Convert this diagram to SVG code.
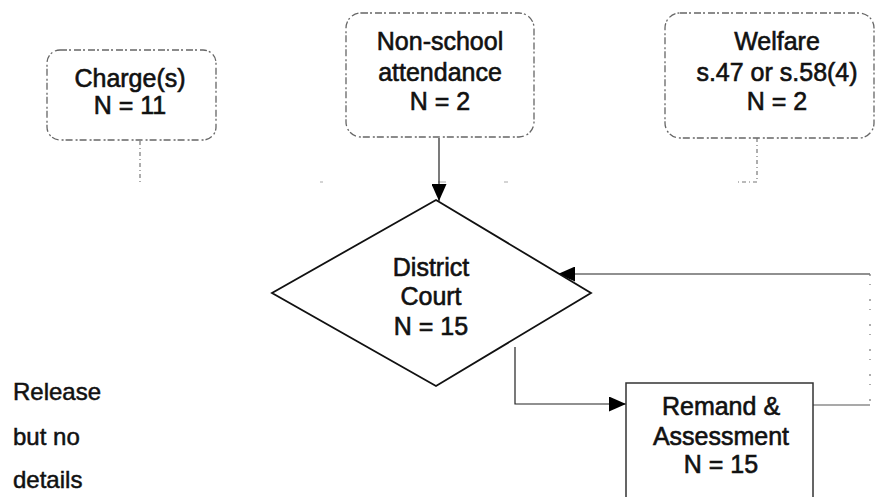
<svg xmlns="http://www.w3.org/2000/svg" width="876" height="497" viewBox="0 0 876 497">
  <style>
    .lbl { font-family: "Liberation Sans", Arial, sans-serif; font-size: 25px; fill: #111; stroke: #111; stroke-width: 0.6; text-anchor: middle; }
    .note { font-family: "Liberation Sans", Arial, sans-serif; font-size: 24px; fill: #111; stroke: #111; stroke-width: 0.5; }
    .src { fill: #fff; stroke: #666; stroke-width: 1.3; stroke-dasharray: 7 2 2 3; }
    .solid { fill: #fff; stroke: #111; stroke-width: 1.8; }
    .wire { fill: none; stroke: #222; stroke-width: 1.2; }
    .faint { fill: none; stroke: #777; stroke-width: 1.2; stroke-dasharray: 4 3 1 3; }
    .bus { fill: none; stroke: #aaa; stroke-width: 1.2; }
  </style>
  <defs>
    <marker id="arrow" viewBox="0 0 17 15" refX="17" refY="7.5" markerWidth="17" markerHeight="15" markerUnits="userSpaceOnUse" orient="auto">
      <path d="M0,0 L17,7.5 L0,15 Z" fill="#000"/>
    </marker>
  </defs>

  <rect width="876" height="497" fill="#fff"/>

  <!-- connectors -->
  <g id="connectors">
    <path class="faint" d="M140,141 V182"/>
    <!-- bus joining the three sources: mostly broken, only specks remain -->
    <path class="bus" d="M140,182 H757" style="stroke-dasharray:0 180 3 115 8 58 4 257"/>
    <path class="faint" d="M757,138 V182 H738"/>
    <path class="wire" d="M439,138 V201" marker-end="url(#arrow)"/>
    <path class="wire" d="M870,274 H558" marker-end="url(#arrow)"/>
    <path class="faint" d="M870,274 V405" style="stroke-dasharray:2 8 1 14"/>
    <path class="wire" d="M813,405 H870" style="stroke:#555"/>
    <path class="wire" d="M515,347 V404 H626" marker-end="url(#arrow)"/>
  </g>

  <!-- Charge(s) -->
  <g id="charges">
    <rect class="src" x="47" y="50" width="169" height="90" rx="13"/>
    <text class="lbl" x="130" y="87">Charge(s)</text>
    <text class="lbl" x="130" y="114">N = 11</text>
  </g>

  <!-- Non-school attendance -->
  <g id="non-school">
    <rect class="src" x="346" y="13" width="188" height="124" rx="15"/>
    <text class="lbl" x="440" y="50">Non-school</text>
    <text class="lbl" x="440" y="81">attendance</text>
    <text class="lbl" x="440" y="110">N = 2</text>
  </g>

  <!-- Welfare -->
  <g id="welfare">
    <rect class="src" x="665" y="13" width="209" height="125" rx="15"/>
    <text class="lbl" x="777" y="50">Welfare</text>
    <text class="lbl" x="777" y="81">s.47 or s.58(4)</text>
    <text class="lbl" x="777" y="110">N = 2</text>
  </g>

  <!-- District Court -->
  <g id="district-court">
    <polygon class="solid" points="436,200 591,293 436,386 272,293"/>
    <text class="lbl" x="431" y="276">District</text>
    <text class="lbl" x="431" y="305">Court</text>
    <text class="lbl" x="431" y="335">N = 15</text>
  </g>

  <!-- Remand & Assessment -->
  <g id="remand">
    <rect class="solid" x="626" y="383" width="187" height="130" style="stroke:#333;stroke-width:1.5"/>
    <text class="lbl" x="721" y="415">Remand &amp;</text>
    <text class="lbl" x="721" y="445">Assessment</text>
    <text class="lbl" x="721" y="473">N = 15</text>
  </g>

  <!-- Release note -->
  <g id="release">
    <text class="note" x="13" y="400">Release</text>
    <text class="note" x="13" y="445">but no</text>
    <text class="note" x="13" y="488">details</text>
  </g>
</svg>
